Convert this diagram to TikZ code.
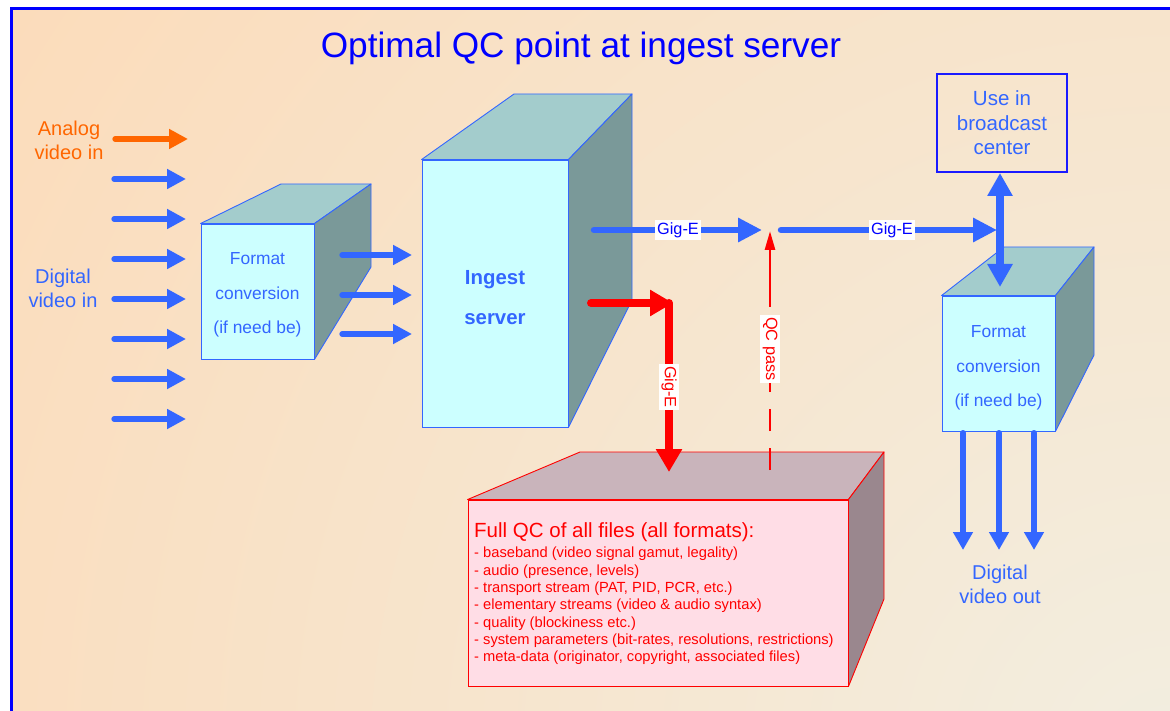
\documentclass[tikz,border=0pt]{standalone}
\usepackage{fontspec}
\setmainfont{Liberation Sans}
\usetikzlibrary{arrows.meta,calc}
\definecolor{peach}{HTML}{FDD9B5}
\definecolor{cream}{HTML}{F2EEE0}
\definecolor{arrowblue}{HTML}{3366FF}
\definecolor{titleblue}{HTML}{0000FF}
\definecolor{boxblue}{HTML}{1A1AFF}
\definecolor{cyanfront}{HTML}{CCFFFF}
\definecolor{cyantop}{HTML}{A3CCCC}
\definecolor{cyanside}{HTML}{7A9999}
\definecolor{pinkfront}{HTML}{FFDDE6}
\definecolor{pinktop}{HTML}{C9B4BB}
\definecolor{pinkside}{HTML}{9A878E}
\definecolor{analog}{HTML}{FF6600}
\definecolor{qcred}{HTML}{FF0000}
\begin{document}
\begin{tikzpicture}[x=1pt,y=-1pt,
  txt/.style={text=arrowblue, align=center, inner sep=0pt},
  cfront/.style={draw=arrowblue, fill=cyanfront, line width=0.9pt, inner sep=0pt},
  ctop/.style={draw=arrowblue, fill=cyantop, line width=0.9pt, line join=round},
  cside/.style={draw=arrowblue, fill=cyanside, line width=0.9pt, line join=round},
  rfront/.style={draw=qcred, fill=pinkfront, line width=0.9pt, inner sep=0pt},
  rtop/.style={draw=qcred, fill=pinktop, line width=0.9pt, line join=round},
  rside/.style={draw=qcred, fill=pinkside, line width=0.9pt, line join=round},
  inarrow/.style={draw=arrowblue, line width=5.3pt, line cap=round, -{Triangle[length=19pt,width=19pt]}},
  gigarrow/.style={draw=arrowblue, line width=6.5pt, line cap=round, -{Triangle[length=24pt,width=23pt]}},
  outarrow/.style={draw=arrowblue, line width=6pt, line cap=round, -{Triangle[length=18pt,width=19pt]}},
  dblarrow/.style={draw=arrowblue, line width=8pt, {Triangle[length=23pt,width=24pt]}-{Triangle[length=23pt,width=24pt]}},
  redarrow/.style={draw=qcred, line width=8pt, line cap=round, -{Triangle[length=23pt,width=25pt]}},
  qcline/.style={draw=qcred, line width=2.7pt},
  glabel/.style={fill=white, inner sep=2.4pt, font=\fontsize{16.3}{19}\selectfont},
]
\useasboundingbox (0,0) rectangle (1170,711);
\fill[white] (0,0) rectangle (1170,711);
\begin{scope}
  \clip (11.5,8.5) rectangle (1170,711);
  \fill[peach] (0,0) rectangle (1170,711);
  \shade[inner color=cream, outer color=peach] (1170,760) circle[radius=1600pt];
\end{scope}
\draw[titleblue, line width=3pt] (11.5,8.5) rectangle (1200,740);

% title
\node[text=titleblue, font=\fontsize{35.2}{42}\selectfont, inner sep=0pt] (title) at (581,48) {Optimal QC point at ingest server};

% left inputs
\node[txt, text=analog, font=\fontsize{20}{24}\selectfont] (anin) at (69,140) {Analog\\video in};
\coordinate (ans) at (115,139);
\coordinate (ane) at (188,139);
\draw[inarrow, draw=analog] (ans) -- (ane);
\node[txt, font=\fontsize{20}{24}\selectfont] (digin) at (63,288) {Digital\\video in};
\foreach \yy/\nm in {179/a,219/b,259/c,299/d,339/e,379/f,419/g}{
  \coordinate (din\nm s) at (114,\yy);
  \coordinate (din\nm e) at (186,\yy);
  \draw[inarrow] (din\nm s) -- (din\nm e);
}

% cube 1: format conversion (left)
\node[cfront, minimum width=113pt, minimum height=135pt] (fc1) at (257.5,291.5) {};
\filldraw[ctop] (fc1.north west) -- (281,184) -- (371,184) -- (fc1.north east) -- cycle;
\filldraw[cside] (fc1.north east) -- (371,184) -- (371,267) -- (fc1.south east) -- cycle;
\node[txt, font=\fontsize{17.4}{34.5}\selectfont] (fc1t) at (257.5,295) {Format\\conversion\\(if need be)};

% cube 2: ingest server
\node[cfront, minimum width=146pt, minimum height=267pt] (ing) at (495,293.5) {};
\filldraw[ctop] (ing.north west) -- (514,94) -- (632,94) -- (ing.north east) -- cycle;
\filldraw[cside] (ing.north east) -- (632,94) -- (632,300) -- (ing.south east) -- cycle;
\node[txt, font=\bfseries\fontsize{20.4}{40}\selectfont] (ingt) at (495,298) {Ingest\\server};

% arrows format -> ingest
\foreach \yy/\nm in {255/a,295/b,334/c}{
  \coordinate (mid\nm s) at (342,\yy);
  \coordinate (mid\nm e) at (412,\yy);
  \draw[inarrow] (mid\nm s) -- (mid\nm e);
}

% cube 4: QC box
\node[rfront, minimum width=380pt, minimum height=186pt] (qcf) at (658,593) {};
\filldraw[rtop] (qcf.north west) -- (580,452) -- (884,452) -- (qcf.north east) -- cycle;
\filldraw[rside] (qcf.north east) -- (884,452) -- (884,599) -- (qcf.south east) -- cycle;
\node[anchor=west, text=qcred, inner sep=0pt, font=\fontsize{20.5}{24}\selectfont] (qct) at (474,532) {Full QC of all files (all formats):};
\node[anchor=west, text=qcred, inner sep=0pt, align=left, font=\fontsize{14.7}{17.3}\selectfont] (qcl) at (474,606)
{- baseband (video signal gamut, legality)\\
- audio (presence, levels)\\
- transport stream (PAT, PID, PCR, etc.)\\
- elementary streams (video \& audio syntax)\\
- quality (blockiness etc.)\\
- system parameters (bit-rates, resolutions, restrictions)\\
- meta-data (originator, copyright, associated files)};

% cube 3: format conversion (right)
\node[cfront, minimum width=113pt, minimum height=135pt] (fc2) at (998.5,363.5) {};
\filldraw[ctop] (fc2.north west) -- (1004,247) -- (1094,247) -- (fc2.north east) -- cycle;
\filldraw[cside] (fc2.north east) -- (1094,247) -- (1094,355) -- (fc2.south east) -- cycle;
\node[txt, font=\fontsize{17.4}{34.5}\selectfont] (fc2t) at (998.5,368) {Format\\conversion\\(if need be)};

% use in broadcast center
\node[draw=boxblue, line width=1.3pt, minimum width=130pt, minimum height=98pt, txt, font=\fontsize{20.5}{24.5}\selectfont] (ubc) at (1002,123) {Use in\\broadcast\\center};

% Gig-E blue path
\coordinate (g1s) at (594,230);
\coordinate (g1e) at (762,230);
\coordinate (g2s) at (781,230);
\coordinate (g2e) at (997,230);
\draw[gigarrow] (g1s) -- (g1e);
\draw[gigarrow] (g2s) -- (g2e);
\node[glabel, text=titleblue] (gl1) at (678,230) {Gig-E};
\node[glabel, text=titleblue] (gl2) at (892,230) {Gig-E};
\coordinate (vtop) at (1000,173);
\coordinate (vbot) at (1000,287);
\draw[dblarrow] (vtop) -- (vbot);

% red Gig-E path
\coordinate (r0) at (591,303);
\coordinate (rc) at (669,303);
\coordinate (rh) at (673,303);
\coordinate (rd) at (669,472);
\draw[redarrow] (rc) -- (rd);
\draw[redarrow] (r0) -- (rh);
\node[glabel, text=qcred, rotate=-90] (rl) at (669,387) {Gig-E};

% QC pass dashed
\node[glabel, text=qcred, rotate=-90] (qcp) at (770,349) {QC pass};
\coordinate (qb) at (770,470);
\coordinate (qtop) at (770,231);
\draw[qcline, dash pattern=on 22pt off 17pt] (qb) -- (qcp.east);
\draw[qcline, -{Triangle[length=19pt,width=10pt]}] ($(qcp.west)+(0,-8)$) -- (qtop);

% outputs
\foreach \xx/\nm in {963/a,999/b,1034/c}{
  \coordinate (out\nm s) at (\xx,433);
  \coordinate (out\nm e) at (\xx,550);
  \draw[outarrow] (out\nm s) -- (out\nm e);
}
\node[txt, font=\fontsize{20}{24}\selectfont] (dout) at (1000,584) {Digital\\video out};
\end{tikzpicture}
\end{document}
